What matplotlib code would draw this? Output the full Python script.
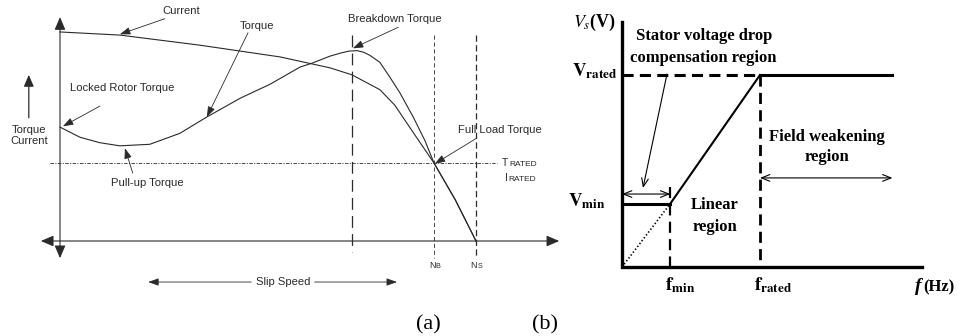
import matplotlib.pyplot as plt

plt.rcParams['mathtext.fontset'] = 'stix'
plt.rcParams['lines.scale_dashes'] = False

# (a) torque / current vs speed, % of synchronous speed and % of rated value
torque_speed = [0, 4.8, 9.6, 14.4, 21.6, 28.8, 35.3, 43.3, 50.5, 57.7, 60.6, 64.9,
                67.5, 69.5, 71.4, 73.0, 74.5, 76.9, 79.3, 81.7, 84.9, 87.7, 89.9, 95, 100]
torque_pct = [146, 133, 126, 122, 124, 138, 159, 183, 201, 223, 228, 237,
              241, 243.5, 244, 242, 238, 229, 210, 190, 159, 129, 100, 53, 0]
current_speed = [0, 14.4, 33.7, 52.9, 64.9, 70.2, 76.9, 80.5, 85.3, 89.9, 95, 100]
current_pct = [268, 264, 251, 236, 222, 213, 194, 174, 136, 100, 53, 0]
n_breakdown = 70.2
n_b = 90
n_s = 100
rated_pct = 100

# (b) V/f profile, per unit of rated frequency / voltage
f_min, f_rated, f_weak_end = 0.35, 1.0, 1.96
v_min, v_rated = 0.33, 1.0

fig = plt.figure(figsize=(9.6, 3.36), dpi=100)

# ---------------- panel (a) ----------------
ax = fig.add_axes([0, 0, 0.6, 1])
ax.set_xlim(-14.423, 124.038)
ax.set_ylim(-121.795, 308.974)
ax.axis('off')

grey = '#2a2a2a'
sans = 'Liberation Sans'
arr_small = dict(arrowstyle='-|>,head_length=0.7,head_width=0.25', mutation_scale=9,
                 lw=0.6, color=grey, shrinkA=0, shrinkB=0)
arr_axis = dict(arrowstyle='<|-|>,head_length=0.7,head_width=0.3', mutation_scale=11,
                lw=0.8, color=grey, shrinkA=0, shrinkB=0)

ax.annotate('', xy=(120, 0), xytext=(-4.6, 0), arrowprops=arr_axis)
ax.annotate('', xy=(0, 287), xytext=(0, -22), arrowprops=arr_axis)

ax.plot(current_speed, current_pct, color=grey, lw=0.8)
ax.plot(torque_speed, torque_pct, color=grey, lw=0.8)

ax.plot([n_breakdown, n_breakdown], [264, -14], color=grey, lw=0.9, dashes=(8.5, 4.5))
ax.plot([n_b, n_b], [264, -22], color=grey, lw=0.6, dashes=(3, 2))
ax.plot([n_s, n_s], [264, -22], color=grey, lw=0.9, dashes=(4.5, 2.5))
ax.plot([-2.4, 105], [rated_pct, rated_pct], color=grey, lw=0.6, dashes=(2.5, 1, 0.8, 1))

fs = 8.1
ax.text(29.1, 295, 'Current', fontsize=fs, family=sans, color=grey, ha='center', va='center')
ax.annotate('', xy=(14.4, 265), xytext=(25.2, 285), arrowprops=arr_small)
ax.text(47.4, 276, 'Torque', fontsize=fs, family=sans, color=grey, ha='center', va='center')
ax.annotate('', xy=(35.3, 159), xytext=(45.2, 267), arrowprops=arr_small)
ax.text(14.9, 196, 'Locked Rotor Torque', fontsize=fs, family=sans, color=grey,
        ha='center', va='center')
ax.annotate('', xy=(0.7, 147), xytext=(9.6, 173), arrowprops=arr_small)
ax.text(20.9, 74, 'Pull-up Torque', fontsize=fs, family=sans, color=grey, ha='center', va='center')
ax.annotate('', xy=(15.6, 119), xytext=(17.5, 87), arrowprops=arr_small)
ax.text(80.5, 285, 'Breakdown Torque', fontsize=fs, family=sans, color=grey,
        ha='center', va='center')
ax.annotate('', xy=(70.4, 247), xytext=(81.3, 274), arrowprops=arr_small)
ax.text(105.8, 142, 'Full Load Torque', fontsize=fs, family=sans, color=grey,
        ha='center', va='center')
ax.annotate('', xy=(90.1, 99), xytext=(100.2, 132), arrowprops=arr_small)

ax.annotate('', xy=(-7.5, 213), xytext=(-7.5, 158),
            arrowprops=dict(arrowstyle='-|>,head_length=0.7,head_width=0.3', mutation_scale=10,
                            lw=0.9, color=grey, shrinkA=0, shrinkB=0))
ax.text(-7.5, 135, 'Torque\nCurrent', fontsize=fs, family=sans, color=grey,
        ha='center', va='center', linespacing=1.1)

# small caps labels
for lab, x0, y, dx in [('T', 106.3, 96.5, 4.9), ('I', 107.0, 77.5, 2.3)]:
    ax.text(x0, y, lab, fontsize=7.5, family=sans, color=grey, ha='left', va='baseline')
    ax.annotate('RATED', xy=(x0, y), xytext=(dx, 0), textcoords='offset points',
                fontsize=6, family=sans, color=grey, ha='left', va='baseline')

for n, sub in [(n_b, 'B'), (n_s, 'S')]:
    ax.text(n + 0.3, -34, 'N', fontsize=6.5, family=sans, color=grey, ha='right', va='baseline')
    ax.text(n + 0.3, -34, sub, fontsize=5.2, family=sans, color=grey, ha='left', va='baseline')

ax.text(53.6, -52.6, 'Slip Speed', fontsize=fs, family=sans, color=grey, ha='center', va='center')
ax.annotate('', xy=(21.2, -52.6), xytext=(46.0, -52.6), arrowprops=arr_small)
ax.annotate('', xy=(81.0, -52.6), xytext=(61.2, -52.6), arrowprops=arr_small)

fig.text(428 / 960, 1 - 325 / 336, '(a)', fontsize=16, family='Liberation Serif',
         ha='center', va='center')
fig.text(545 / 960, 1 - 325 / 336, '(b)', fontsize=16, family='Liberation Serif',
         ha='center', va='center')

# ---------------- panel (b) ----------------
bx = fig.add_axes([0.6, 0, 0.4, 1])
bx.set_xlim(-0.3333, 2.4493)
bx.set_ylim(-0.359375, 1.390625)
bx.axis('off')

serif = 'Liberation Serif'
bx.plot([0, 0, 2.174], [1.276, 0, 0], color='k', lw=2.4, solid_joinstyle='miter')
bx.plot([0, f_rated], [v_rated, v_rated], color='k', lw=2.2, dashes=(8, 4.5))
bx.plot([f_rated, f_weak_end], [v_rated, v_rated], color='k', lw=2.2)
bx.plot([f_rated, f_rated], [v_rated, 0], color='k', lw=2.0, dashes=(8, 4.5))
bx.plot([f_min, f_min], [0.417, 0], color='k', lw=1.6, dashes=(8, 4.5))
bx.plot([0, f_min], [v_min, v_min], color='k', lw=2.2)
bx.plot([f_min, f_rated], [v_min, v_rated], color='k', lw=1.5)
bx.plot([0, f_min], [0, v_min], color='k', lw=1.2, dashes=(1, 1.6))

thin = dict(arrowstyle='<->,head_length=0.5,head_width=0.2', mutation_scale=12, lw=0.8,
            color='k', shrinkA=0, shrinkB=0)
bx.annotate('', xy=(f_min, 0.38), xytext=(0, 0.38), arrowprops=thin)
bx.annotate('', xy=(f_weak_end, 0.464), xytext=(f_rated, 0.464), arrowprops=thin)
bx.annotate('', xy=(0.152, 0.411), xytext=(0.326, 1.005),
            arrowprops=dict(arrowstyle='->,head_length=0.5,head_width=0.2', mutation_scale=12,
                            lw=0.8, color='k', shrinkA=0, shrinkB=0))

fsb = 12
bx.text(0.594, 1.203, 'Stator voltage drop', fontsize=fsb, family=serif, weight='bold',
        ha='center', va='center')
bx.text(0.587, 1.089, 'compensation region', fontsize=fsb, family=serif, weight='bold',
        ha='center', va='center')
bx.text(1.486, 0.677, 'Field weakening', fontsize=fsb, family=serif, weight='bold',
        ha='center', va='center')
bx.text(1.486, 0.573, 'region', fontsize=fsb, family=serif, weight='bold',
        ha='center', va='center')
bx.text(0.674, 0.323, 'Linear', fontsize=fsb, family=serif, weight='bold',
        ha='center', va='center')
bx.text(0.674, 0.208, 'region', fontsize=fsb, family=serif, weight='bold',
        ha='center', va='center')

bx.text(-0.043, 1.276, r'$V_s$(V)', fontsize=13, family=serif, weight='bold',
        ha='right', va='center')
bx.text(-0.036, 1.02, r'$\mathbf{V}_{\mathbf{rated}}$', fontsize=13.5, ha='right', va='center')
bx.text(-0.116, 0.345, r'$\mathbf{V}_{\mathbf{min}}$', fontsize=13.5, ha='right', va='center')
bx.text(0.42, -0.094, r'$\mathbf{f}_{\mathbf{min}}$', fontsize=13.5, ha='center', va='center')
bx.text(1.094, -0.094, r'$\mathbf{f}_{\mathbf{rated}}$', fontsize=13.5, ha='center', va='center')
bx.text(2.123, -0.104, 'f', fontsize=14, family=serif, weight='bold', style='italic',
        ha='left', va='center')
bx.annotate('(Hz)', xy=(2.123, -0.104), xytext=(6, 0), textcoords='offset points',
            fontsize=12, family=serif, weight='bold', ha='left', va='center')

fig.savefig('out.png', dpi=100)
